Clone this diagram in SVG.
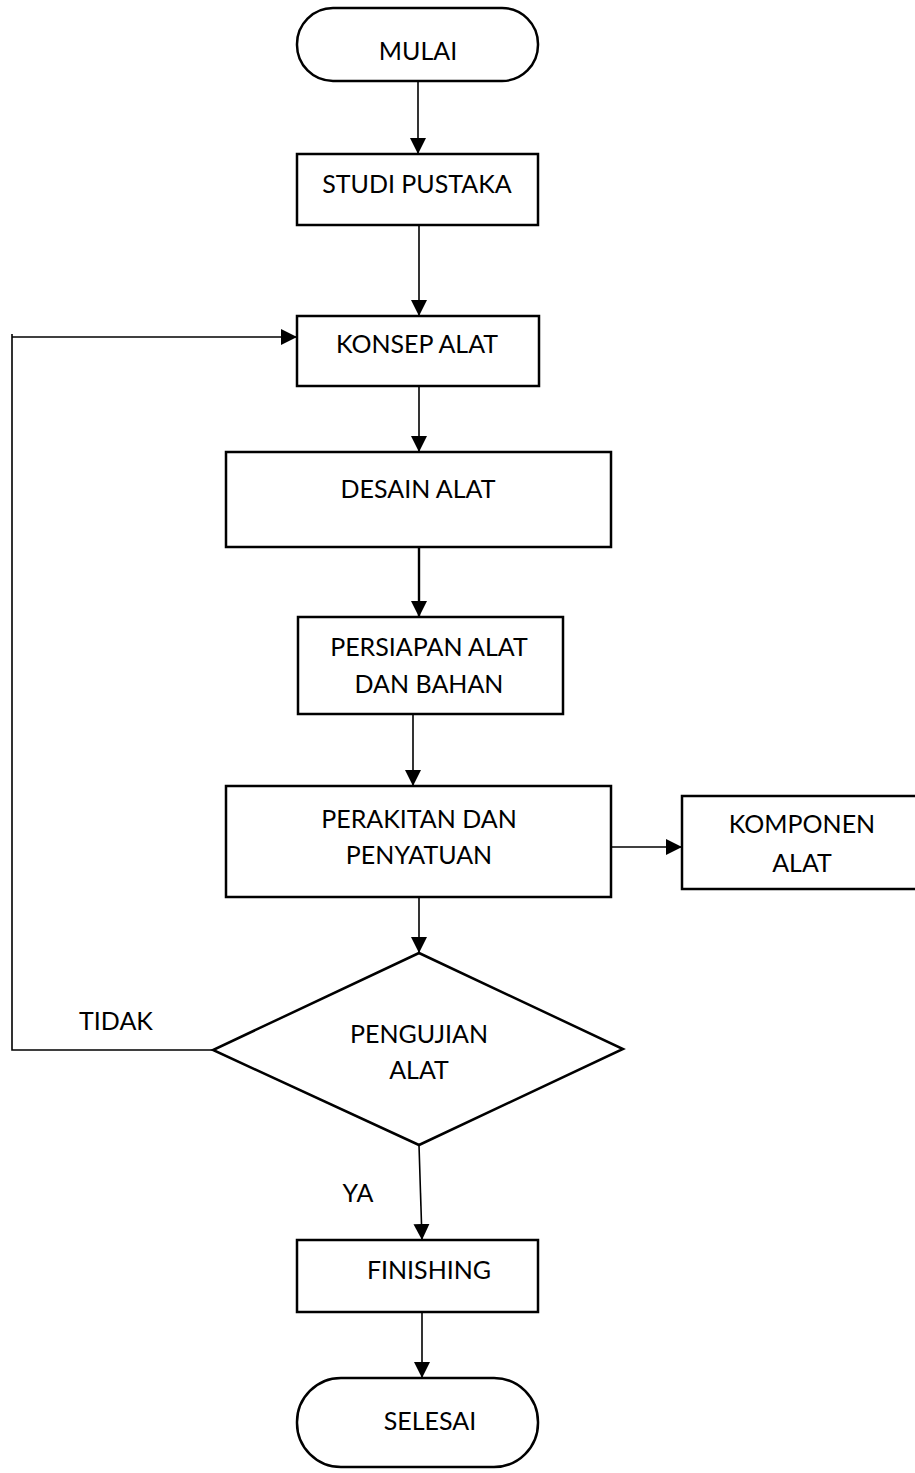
<svg xmlns="http://www.w3.org/2000/svg" width="915" height="1473" viewBox="0 0 915 1473">
<style>
.box{fill:#fff;stroke:#000;stroke-width:2.5}
.t{font-family:Lato,"Liberation Sans",sans-serif;font-size:25px;fill:#000;text-anchor:middle}
.c{fill:none;stroke:#000;stroke-width:1.6}
</style>
<defs>
<marker id="ah" markerUnits="userSpaceOnUse" viewBox="0 0 16 16" refX="16" refY="8" markerWidth="16" markerHeight="16" orient="auto">
<path d="M0,0 L16,8 L0,16 z" fill="#000"/>
</marker>
</defs>
<rect width="915" height="1473" fill="#fff"/>
<g id="connectors">
<line class="c" x1="418" y1="81" x2="418" y2="154" marker-end="url(#ah)"/>
<line class="c" x1="419" y1="225" x2="419" y2="316" marker-end="url(#ah)"/>
<line class="c" x1="419" y1="386" x2="419" y2="452" marker-end="url(#ah)"/>
<line class="c" x1="419" y1="547" x2="419" y2="617" marker-end="url(#ah)" style="stroke-width:2.4"/>
<line class="c" x1="413" y1="714" x2="413" y2="786" marker-end="url(#ah)"/>
<line class="c" x1="419" y1="897" x2="419" y2="953" marker-end="url(#ah)"/>
<line class="c" x1="612" y1="847" x2="682" y2="847" marker-end="url(#ah)"/>
<polyline class="c" points="213,1050 12,1050 12,334"/>
<line class="c" x1="12" y1="337" x2="297" y2="337" marker-end="url(#ah)"/>
<line class="c" x1="419" y1="1145" x2="422" y2="1240" marker-end="url(#ah)"/>
<line class="c" x1="422" y1="1312" x2="422" y2="1378" marker-end="url(#ah)"/>
<text class="t" x="116" y="1030">TIDAK</text>
<text class="t" x="358" y="1202">YA</text>
</g>
<g id="mulai">
<rect class="box" x="297" y="8" width="241" height="73" rx="36" ry="36"/>
<text class="t" x="418" y="60">MULAI</text>
</g>
<g id="studi">
<rect class="box" x="297" y="154" width="241" height="71"/>
<text class="t" x="417" y="193">STUDI PUSTAKA</text>
</g>
<g id="konsep">
<rect class="box" x="297" y="316" width="242" height="70"/>
<text class="t" x="417" y="353">KONSEP ALAT</text>
</g>
<g id="desain">
<rect class="box" x="226" y="452" width="385" height="95"/>
<text class="t" x="418" y="498">DESAIN ALAT</text>
</g>
<g id="persiapan">
<rect class="box" x="298" y="617" width="265" height="97"/>
<text class="t" x="429" y="656">PERSIAPAN ALAT</text>
<text class="t" x="429" y="693">DAN BAHAN</text>
</g>
<g id="perakitan">
<rect class="box" x="226" y="786" width="385" height="111"/>
<text class="t" x="419" y="828">PERAKITAN DAN</text>
<text class="t" x="419" y="864">PENYATUAN</text>
</g>
<g id="komponen">
<rect class="box" x="682" y="796" width="240" height="93"/>
<text class="t" x="802" y="833">KOMPONEN</text>
<text class="t" x="802" y="872">ALAT</text>
</g>
<g id="pengujian">
<polygon class="box" points="419,953 623,1049 419,1145 213,1050"/>
<text class="t" x="419" y="1043">PENGUJIAN</text>
<text class="t" x="419" y="1079">ALAT</text>
</g>
<g id="finishing">
<rect class="box" x="297" y="1240" width="241" height="72"/>
<text class="t" x="429" y="1279">FINISHING</text>
</g>
<g id="selesai">
<rect class="box" x="297" y="1378" width="241" height="89" rx="44" ry="44"/>
<text class="t" x="430" y="1430">SELESAI</text>
</g>
</svg>
